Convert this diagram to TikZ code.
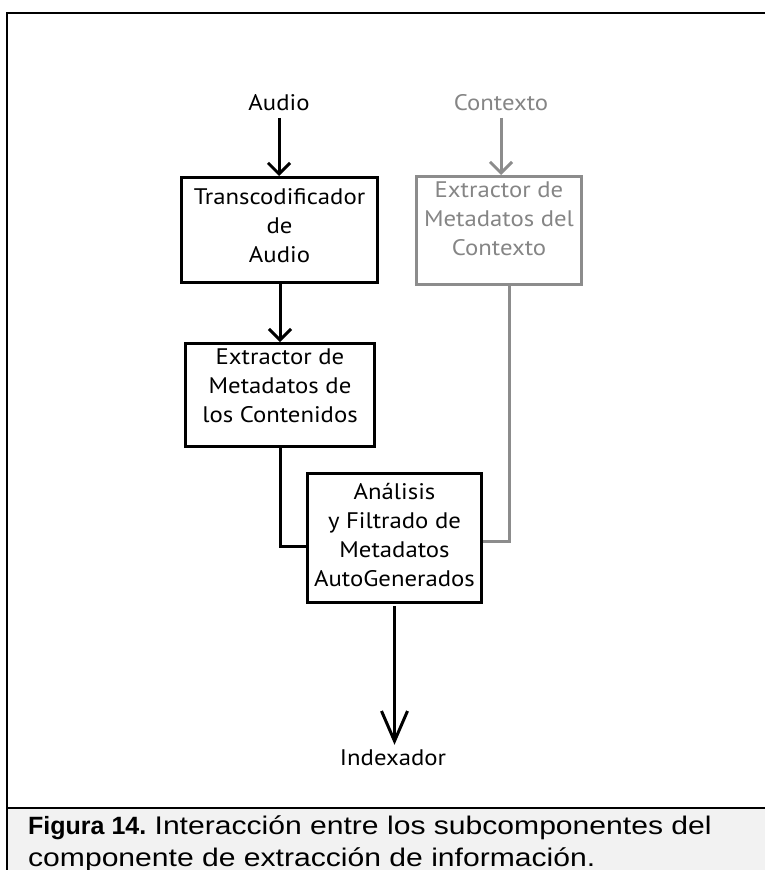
\documentclass[tikz,border=0pt]{standalone}
\usepackage{fontspec}
\setmainfont[FakeStretch=1.1]{PT Sans}
\newfontfamily\capfont{Liberation Sans}
\newfontfamily\capwide[FakeStretch=1.18]{Liberation Sans}
\usetikzlibrary{arrows.meta}
\definecolor{ctxgray}{HTML}{8C8C8C}
\definecolor{ctxtext}{HTML}{858585}
\definecolor{capbg}{HTML}{F2F2F2}

\begin{document}
\begin{tikzpicture}[x=1pt,y=-1pt,
  box/.style={draw=black, line width=3pt, inner sep=0pt},
  ctxbox/.style={draw=ctxgray, line width=3pt, inner sep=0pt},
  boxtext/.style={align=center, inner sep=0pt, font=\fontsize{22.5}{29}\selectfont},
  label/.style={inner sep=0pt, font=\fontsize{22.5}{29}\selectfont},
  flow/.style={line width=3pt, -{Straight Barb[length=11pt,width=22pt]}},
  ctxflow/.style={line width=3pt, draw=ctxgray, -{Straight Barb[length=11pt,width=22pt]}},
  link/.style={line width=3pt},
  ctxlink/.style={line width=3pt, draw=ctxgray},
  outflow/.style={line width=3pt, -{Straight Barb[length=30pt,width=26pt]}}]

\useasboundingbox (0,0) rectangle (765,870);

% caption band and frame
\fill[capbg] (7,808) rectangle (775,880);
\draw[line width=2.5pt] (775,13) -- (7,13) -- (7,880);
\draw[line width=2pt] (7,808) -- (775,808);

% boxes
\node[box, minimum width=196pt, minimum height=105pt] (trans) at (279.5,230) {};
\node[ctxbox, minimum width=165pt, minimum height=108pt] (ctx) at (499,230.5) {};
\node[box, minimum width=189pt, minimum height=103pt] (extr) at (280,395) {};
\node[box, minimum width=174pt, minimum height=129pt] (anal) at (394.5,538) {};

% box texts
\node[boxtext] (transtxt) at (279.5,226) {Transcodificador\\de\\Audio};
\node[boxtext, text=ctxtext] (ctxtxt) at (499,219) {Extractor de\\Metadatos del\\Contexto};
\node[boxtext] (extrtxt) at (280,386) {Extractor de\\Metadatos de\\los Contenidos};
\node[boxtext] (analtxt) at (394.5,535.5) {Análisis\\y Filtrado de\\Metadatos\\AutoGenerados};

% free labels
\node[label] (audio) at (279,102.5) {Audio};
\node[label, text=ctxtext] (contexto) at (501,102.5) {Contexto};
\node[label] (idx) at (393,758) {Indexador};

% junction points
\coordinate (jl) at (280,546);
\coordinate (jr) at (509,541);

% connectors
\draw[flow, shorten <=7pt] (audio.south) -- (audio.south |- trans.north);
\draw[ctxflow, shorten <=7pt] (contexto.south) -- (contexto.south |- ctx.north);
\draw[flow] (trans.south -| extr.north) -- (extr.north);
\draw[link] (extr.south) -- (jl) -- (jl -| anal.west);
\draw[ctxlink] (ctx.south -| jr) -- (jr) -- (jr -| anal.east);
\draw[outflow, shorten <=2pt, shorten >=5pt] (anal.south) -- (anal.south |- idx.north);

% caption
\node[anchor=base west, inner sep=0pt] (cap1) at (28,834)
  {{\capfont\fontsize{25}{30}\selectfont\bfseries Figura 14.}\capwide\fontsize{25.5}{30}\selectfont\ Interacción entre los subcomponentes del};
\node[anchor=base west, inner sep=0pt] (cap2) at (28,866)
  {\capwide\fontsize{25.5}{30}\selectfont componente de extracción de información.};

\end{tikzpicture}
\end{document}
